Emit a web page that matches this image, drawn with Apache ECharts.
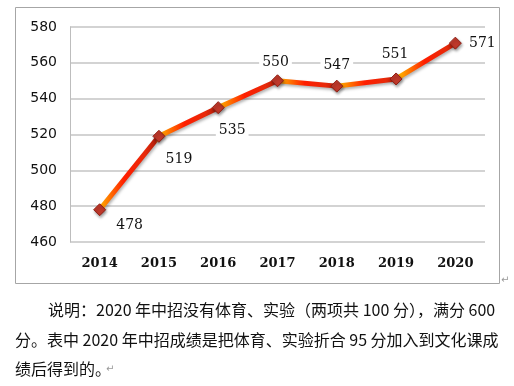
<!DOCTYPE html>
<html><head><meta charset="utf-8">
<script src="https://cdn.jsdelivr.net/npm/echarts@6/dist/echarts.min.js"></script>
<style>html,body{margin:0;padding:0;background:#fff;}#c{width:514px;height:386px;}</style>
</head><body><div id="c"></div>
<script>
const years = ['2014','2015','2016','2017','2018','2019','2020'];
const scores = [478, 519, 535, 550, 547, 551, 571];
const yTicks = {min: 460, max: 580, interval: 20};
const noteLines = [
  '说明：2020 年中招没有体育、实验（两项共 100 分），满分 600',
  '分。表中 2020 年中招成绩是把体育、实验折合 95 分加入到文化课成',
  '绩后得到的。'
];
const labelOffsets = [[30,16],[20,23],[14,23],[-2,-18],[0,-21],[-1,-25],[27,0]];

const chart = echarts.init(document.getElementById('c'), null, {renderer:'canvas'});
const stops = [];
const nSeg = years.length - 1;
for (let i = 0; i < nSeg; i++) {
  const a = i / nSeg, w = 1 / nSeg;
  stops.push({offset: a + 0.02*w, color: '#ffb400'});
  stops.push({offset: a + 0.45*w, color: '#ff1e00'});
  stops.push({offset: a + 0.8*w, color: '#e82a0a'});
  stops.push({offset: a + 0.98*w, color: '#b01e0c'});
}
const data = scores.map((v, i) => ({
  value: v,
  label: {offset: labelOffsets[i]}
}));
chart.setOption({
  animation: false,
  grid: {left: 70, right: 29, top: 27, bottom: 144},
  xAxis: {
    type: 'category', data: years, boundaryGap: true,
    axisLine: {show: false}, axisTick: {show: false},
    axisLabel: {color: '#111', fontFamily: 'DejaVu Serif', fontWeight: 'bold', fontSize: 13, margin: 15}
  },
  yAxis: {
    type: 'value', min: yTicks.min, max: yTicks.max, interval: yTicks.interval,
    axisLine: {show: true, lineStyle: {color: '#bdbdbd', width: 1}},
    axisTick: {show: false},
    splitLine: {lineStyle: {color: '#c4c4c4', width: 1.5}},
    axisLabel: {color: '#111', fontFamily: 'DejaVu Sans', fontSize: 14, margin: 13}
  },
  series: [{
    type: 'line', data: data, z: 5,
    symbol: 'diamond', symbolSize: 12,
    itemStyle: {color: '#c0392b', borderColor: '#8e1f14', borderWidth: 1,
      shadowColor: 'rgba(0,0,0,0.35)', shadowBlur: 3, shadowOffsetX: 1, shadowOffsetY: 2},
    lineStyle: {width: 5,
      color: new echarts.graphic.LinearGradient(0, 0, 1, 0, stops),
      shadowColor: 'rgba(0,0,0,0.3)', shadowBlur: 3, shadowOffsetX: 1, shadowOffsetY: 2},
    label: {show: true, position: 'inside', color: '#111', fontFamily: 'DejaVu Serif',
      fontSize: 14, backgroundColor: '#fff', padding: [1, 3]}
  }],
  graphic: [
    {type: 'rect', shape: {x: 15.5, y: 7.5, width: 484, height: 276}, silent: true, z: -10,
      style: {fill: 'none', stroke: '#a6a6a6', lineWidth: 1}},
    {type: 'text', left: 501, top: 275, style: {text: '↵', fill: '#999', font: '10px "DejaVu Sans"'}},
    {type: 'text', left: 48, top: 302, style: {text: noteLines[0], fill: '#111', font: '16px "Noto Sans CJK SC"'}},
    {type: 'text', left: 15, top: 332, style: {text: noteLines[1], fill: '#111', font: '16px "Noto Sans CJK SC"'}},
    {type: 'text', left: 15, top: 361, style: {text: noteLines[2], fill: '#111', font: '16px "Noto Sans CJK SC"'}},
    {type: 'text', left: 106, top: 364, style: {text: '↵', fill: '#999', font: '10px "DejaVu Sans"'}}
  ]
});
</script></body></html>
